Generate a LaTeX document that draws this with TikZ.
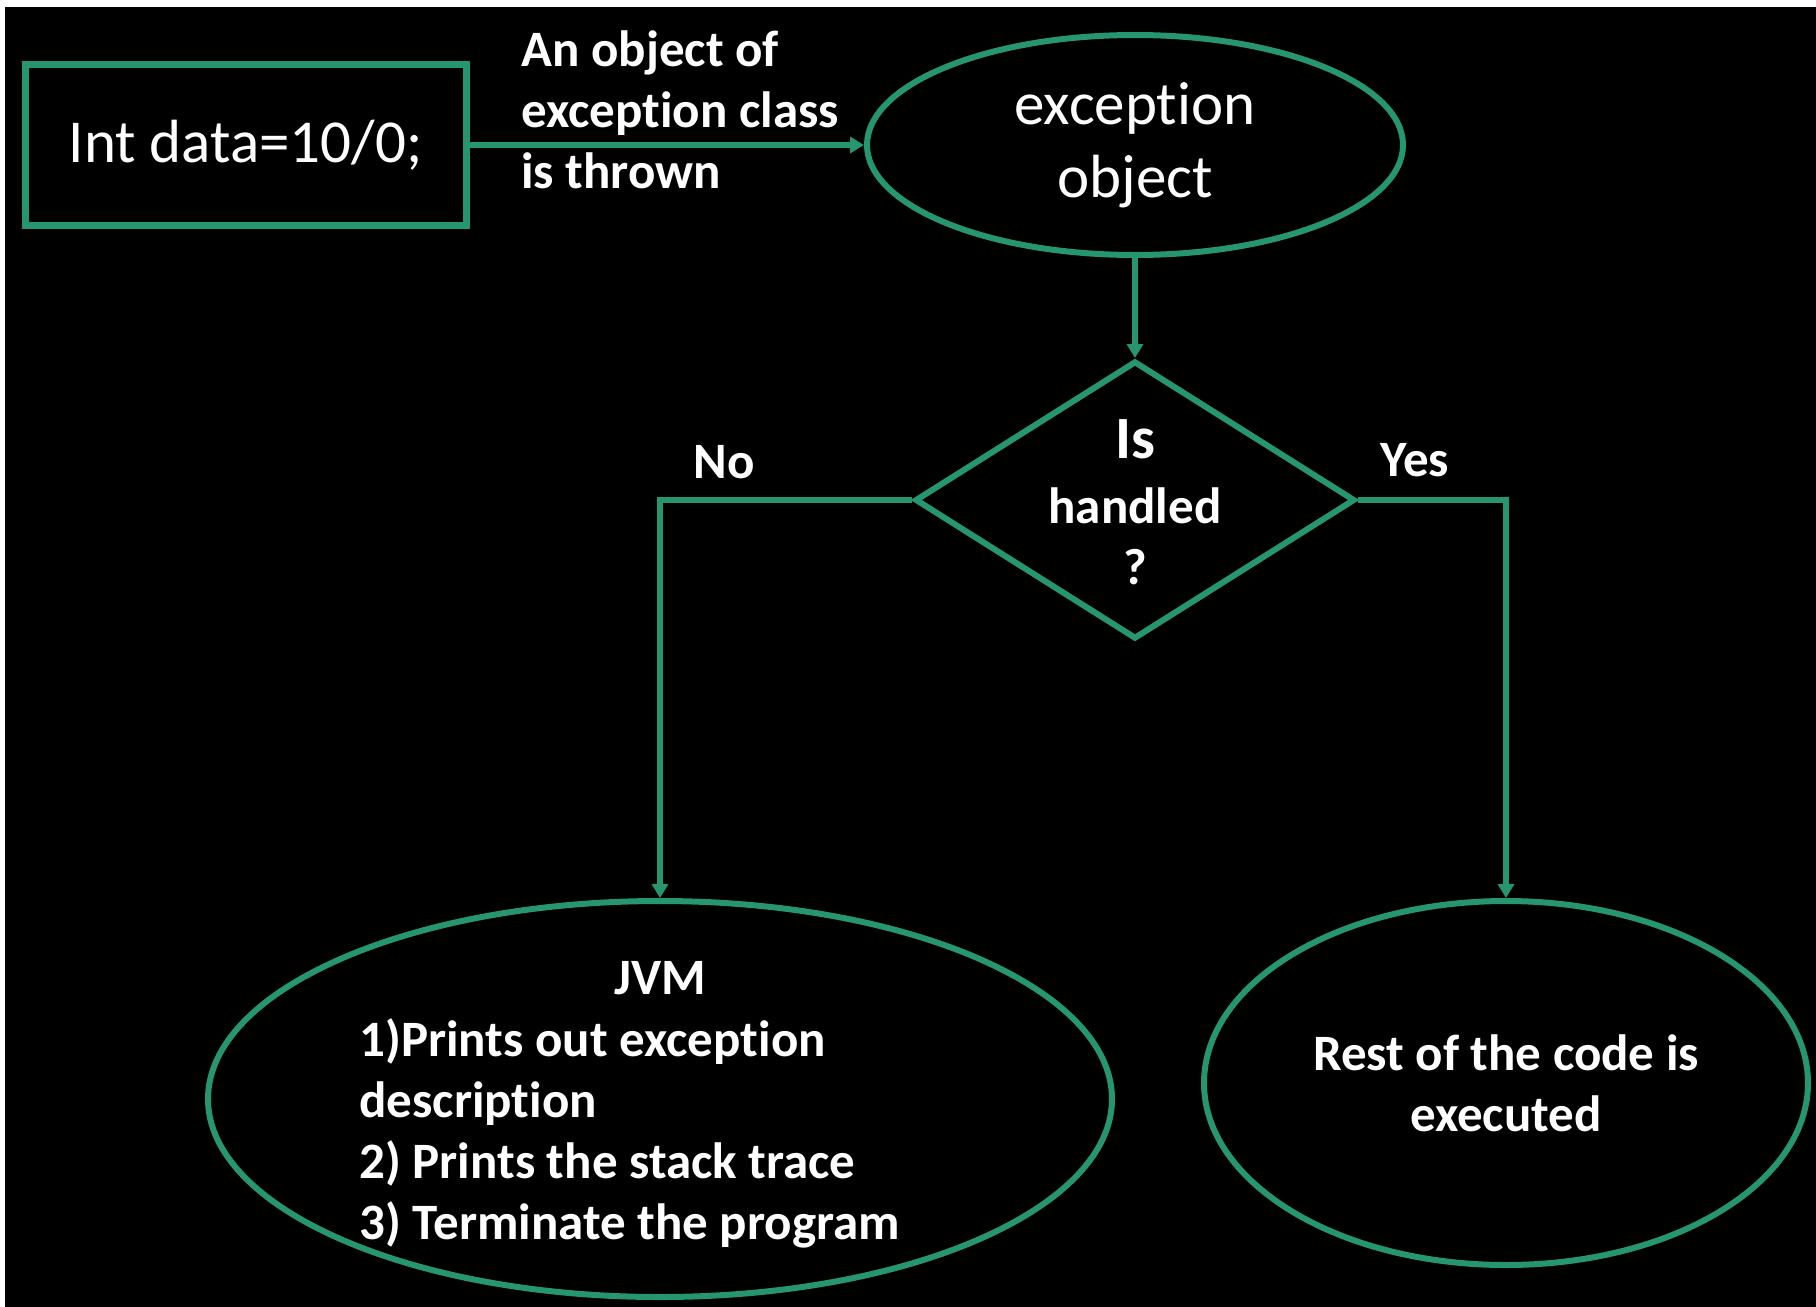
\documentclass[tikz,border=0pt]{standalone}
\usepackage{fontspec}
\setmainfont{Carlito}[Ligatures=NoCommon]
\usetikzlibrary{shapes.geometric,arrows.meta}
\definecolor{flowgreen}{RGB}{38,150,112}
\begin{document}
\begin{tikzpicture}[x=0.5pt,y=-0.5pt,
  line/.style={draw=flowgreen,line width=3pt},
  arr/.style={line,-{Triangle[length=7pt,width=8pt]}},
  txt/.style={text=white,inner sep=0pt},
  bigtxt/.style={txt,font=\fontsize{30.5}{36.5}\selectfont},
  boldtxt/.style={txt,font=\bfseries\fontsize{25.5}{30.5}\selectfont},
  ]
\useasboundingbox (0,0) rectangle (1816,1307);
\fill[white] (0,0) rectangle (1816,1307);
\fill[black] (5,7) rectangle (1816,1307);
% nodes
\node[line,line width=3.5pt,rectangle,minimum width=220.5pt,minimum height=80.5pt,bigtxt] (code) at (245.5,145) {Int data=10/0;};
\node[line,ellipse,minimum width=268pt,minimum height=110pt,bigtxt,align=center] (exc) at (1135,145) {exception\\object};
\node[line,diamond,minimum width=220pt,minimum height=139pt,inner sep=0pt] (dia) at (1135,500) {};
\node[boldtxt,align=center] (q) at (1135,502) {{\fontsize{30}{36}\selectfont Is}\\[2pt]handled\\?};
\node[line,ellipse,minimum width=452pt,minimum height=198pt,inner sep=0pt] (jvm) at (660,1099) {};
\node[boldtxt,anchor=base] (jvmt) at (660,994) {JVM};
\node[boldtxt,align=left,anchor=base west] (steps) at (359,1239) {1)Prints out exception\\description\\2) Prints the stack trace\\3) Terminate the program};
\node[line,ellipse,minimum width=302pt,minimum height=182pt,boldtxt,align=center] (rest) at (1506,1083) {Rest of the code is\\executed};
% connectors
\draw[arr] (code.east) -- (exc.west);
\draw[arr] (exc.south) -- (dia.north);
\draw[arr] (dia.west) -| (jvm.north);
\draw[arr] (dia.east) -| (rest.north);
% labels
\node[boldtxt,align=left,anchor=base west] (thrown) at (521,188) {An object of\\exception class\\is thrown};
\node[boldtxt,anchor=base] (no) at (724,478) {No};
\node[boldtxt,anchor=base] (yes) at (1415,476) {Yes};
\end{tikzpicture}
\end{document}
